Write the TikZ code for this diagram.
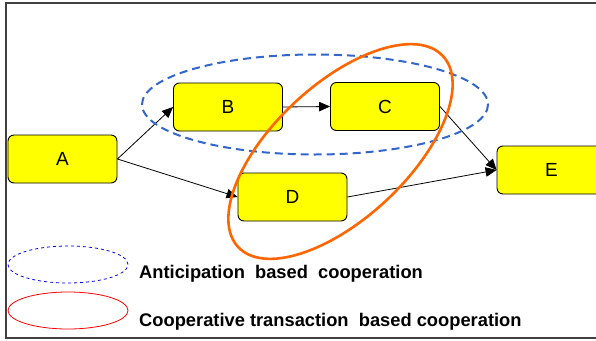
\documentclass[tikz,border=0pt]{standalone}
\usepackage{fontspec}
\setmainfont{Liberation Sans}
\usetikzlibrary{arrows.meta,shapes.geometric}
\definecolor{boxyellow}{HTML}{FFFF00}
\definecolor{dashblue}{HTML}{3366CC}
\definecolor{ringorange}{HTML}{FF6600}
\begin{document}
\begin{tikzpicture}[x=1pt,y=-1pt,
  box/.style={draw=black, line width=0.9pt, fill=boxyellow, rounded corners=6pt,
    minimum width=109pt, minimum height=48pt, inner sep=0pt, font=\fontsize{19}{21}\selectfont},
  link/.style={draw=black, line width=0.8pt, -{Triangle[length=11pt,width=9.5pt]}},
  legendtext/.style={anchor=base west, font=\bfseries\fontsize{18.3}{20}\selectfont, inner sep=0pt}]
\useasboundingbox (0,0) rectangle (596,340);
\fill[white] (0,0) rectangle (596,340);
\draw[line width=1.6pt, draw=black!75] (6,3) rectangle (612,338);
\node[box] (A) at (62.5,159) {A};
\node[box] (B) at (228,107) {B};
\node[box] (C) at (385,106.5) {C};
\node[box] (D) at (292.5,197) {D};
\node[box] (E) at (551.5,170) {E};
\draw[link] (A.east) -- (B.west);
\draw[link] (A.east) -- (D.west);
\draw[link] (B.east) -- (C.west);
\draw[link] (C.east) -- (E.west);
\draw[link] (D.east) -- (E.west);
\draw[dashblue, line width=2pt, dash pattern=on 8pt off 5pt] (315,104.5) ellipse [x radius=173, y radius=50];
\draw[ringorange, line width=2.6pt, rotate around={43:(340.5,151.5)}] (340.5,151.5) ellipse [x radius=140, y radius=67];
\node[draw=blue, dashed, line width=0.8pt, ellipse, minimum width=120pt, minimum height=37pt, inner sep=0pt] (L1) at (68,264.5) {};
\node[draw=red, line width=0.8pt, ellipse, minimum width=120pt, minimum height=37pt, inner sep=0pt] (L2) at (68,310.5) {};
\node[legendtext] (T1) at (139,278) {Anticipation\ \ based\ \ cooperation};
\node[legendtext] (T2) at (139,326) {Cooperative transaction\ \ based cooperation};
\end{tikzpicture}
\end{document}
